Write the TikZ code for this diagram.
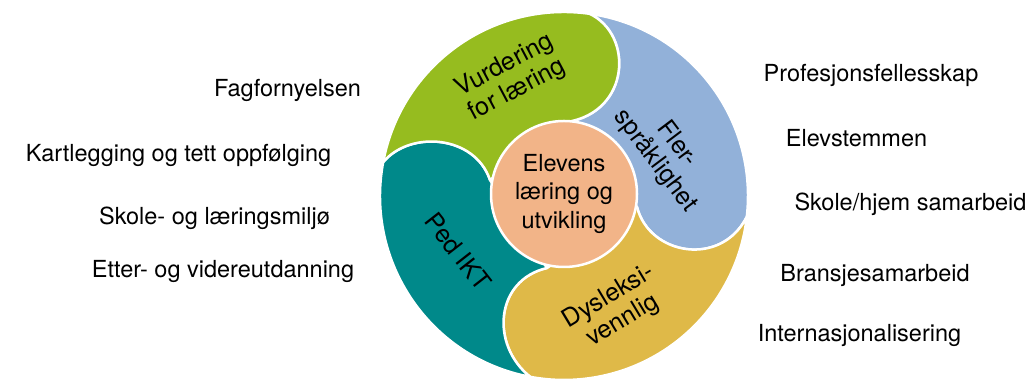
\documentclass[tikz,border=0pt]{standalone}
\usepackage{fontspec}
\setmainfont{TeX Gyre Heros}
\usetikzlibrary{calc}
\definecolor{cgreen}{HTML}{96BC1F}
\definecolor{cblue}{HTML}{92B1D9}
\definecolor{cyellow}{HTML}{DFB948}
\definecolor{cteal}{HTML}{00898A}
\definecolor{ccenter}{HTML}{F2B488}
\begin{document}
\begin{tikzpicture}[x=1pt,y=1pt,
  seg/.style={line width=2.5pt,draw=white,line join=round},
  lbl/.style={font=\fontsize{23.5}{27}\selectfont,anchor=base,inner sep=0pt},
  segtxt/.style={font=\fontsize{25}{27.5}\selectfont,align=center,inner sep=0pt}]
\useasboundingbox (0,0) rectangle (1034,379);
\clip (0,0) rectangle (1034,379);
\coordinate (C) at (564,183);
\coordinate (o1) at ($(C)+(82:184)$);
\coordinate (o2) at ($(C)+(-6.5:184)$);
\coordinate (o3) at ($(C)+(-100.6:184)$);
\coordinate (o4) at ($(C)+(169.4:184)$);
\coordinate (i1) at (567,257);
\coordinate (i2) at (637,172);
\coordinate (i3) at (547,111);
\coordinate (i4) at (490,199);
% blue
\path[seg,fill=cblue] (i1) .. controls (630,267) and (634,344) .. (o1)
  arc[start angle=82,end angle=-6.5,radius=184]
  .. controls (721,111) and (649,124) .. (i2) -- cycle;
% yellow
\path[seg,fill=cyellow] (i2) .. controls (649,124) and (721,111) .. (o2)
  arc[start angle=-6.5,end angle=-100.6,radius=184]
  .. controls (490,34) and (495,99) .. (i3) -- cycle;
% teal
\path[seg,fill=cteal] (i3) .. controls (495,99) and (490,34) .. (o3)
  arc[start angle=-100.6,end angle=-190.6,radius=184]
  .. controls (410,249) and (475,244) .. (i4) -- cycle;
% green
\path[seg,fill=cgreen] (i4) .. controls (475,244) and (410,249) .. (o4)
  arc[start angle=169.4,end angle=82,radius=184]
  .. controls (634,344) and (630,267) .. (i1) -- cycle;
% center
\node[circle,minimum size=146pt,inner sep=0pt,fill=ccenter,draw=white,line width=2.5pt,
  align=center,font=\fontsize{23.5}{28.5}\selectfont] (mid) at (564,185) {Elevens\\læring og\\utvikling};
% segment texts
\node[segtxt,rotate=28] (vur) at (511,301) {Vurdering\\for læring};
\node[segtxt,rotate=-53] (fler) at (666,226) {Fler-\\språklighet};
\node[segtxt,rotate=31] (dys) at (616,70) {Dysleksi-\\vennlig};
\node[segtxt,rotate=-52] (ped) at (458,127) {Ped IKT};
% left labels
\node[lbl] (l1) at (287.5,282) {Fagfornyelsen};
\node[lbl] (l2) at (178.5,217) {Kartlegging og tett oppfølging};
\node[lbl] (l3) at (214.5,154) {Skole- og læringsmiljø};
\node[lbl] (l4) at (223,101) {Etter- og videreutdanning};
% right labels
\node[lbl] (r1) at (871,297) {Profesjonsfellesskap};
\node[lbl] (r2) at (856.5,232) {Elevstemmen};
\node[lbl] (r3) at (910.5,168) {Skole/hjem samarbeid};
\node[lbl] (r4) at (875,97) {Bransjesamarbeid};
\node[lbl] (r5) at (859.5,37) {Internasjonalisering};
\end{tikzpicture}
\end{document}
